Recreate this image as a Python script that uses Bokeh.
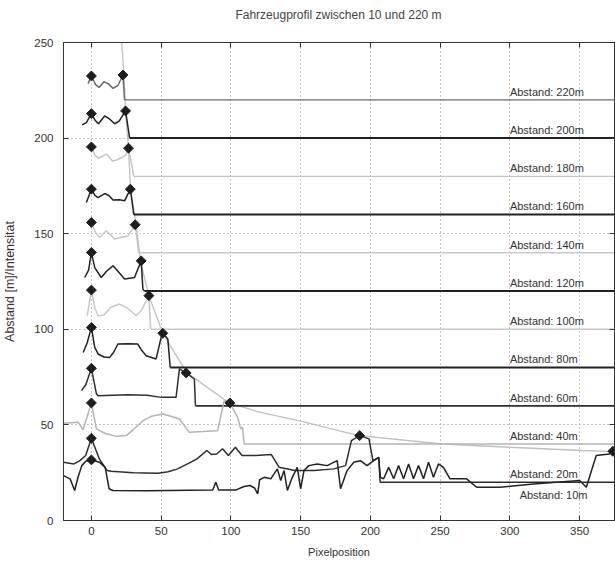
import numpy as np
from bokeh.plotting import figure
from bokeh.models import Range1d, LinearAxis, FixedTicker, Div
from bokeh.layouts import column
from bokeh.embed import file_html
from bokeh.resources import INLINE
from bokeh.core.properties import value

# ---------------- data ----------------
title_text = "Fahrzeugprofil zwischen 10 und 220 m"
distances = [220, 200, 180, 160, 140, 120, 100, 80, 60, 40, 20, 10]
labels = ["Abstand: 220m", "Abstand: 200m", "Abstand: 180m", "Abstand: 160m",
          "Abstand: 140m", "Abstand: 120m", "Abstand: 100m", "Abstand: 80m",
          "Abstand: 60m", "Abstand: 40m", "Abstand: 20m", "Abstand: 10m"]
# x where the flat distance line begins (None = no visible line)
line_start = [23.8, 27.4, 30.4, 30.4, 33.9, 38.0, 42.5, 56.5, 74.6, 109.5, 207.0, None]

x_ticks = [0, 50, 100, 150, 200, 250, 300, 350]
y_ticks = [0, 50, 100, 150, 200, 250]

prof_220_x = [-2.4, 0, 3, 5.5, 9, 12, 15.5, 19, 22.6, 23.8]
prof_220_y = [228.5, 232.5, 228, 226.5, 229.5, 228.5, 226, 227.5, 233, 220]

prof_200_x = [-6.6, -3.6, 0, 2.5, 5, 9.5, 13, 16.7, 20, 24.5, 27.4]
prof_200_y = [206.9, 208.1, 212.8, 209.5, 207.5, 211.6, 210, 207.5, 209, 214.2, 200]

prof_180_x = [0, 2.5, 5, 8, 10.7, 13, 15, 18, 22, 24.5, 26.6, 30.4]
prof_180_y = [195.4, 191, 189.5, 190.5, 191.8, 190, 188, 188.5, 190, 191, 194.7, 180]

prof_160_x = [-3.6, 0, 2.5, 4.8, 9.5, 12.5, 15.5, 20, 23.8, 27.9, 30.4]
prof_160_y = [166.3, 173.3, 170, 168.9, 171, 170, 167.6, 167.8, 167.2, 173.3, 160]

prof_140_x = [0, 3, 5.9, 10.7, 13.5, 16.7, 21, 26.2, 31.4, 33.9]
prof_140_y = [155.9, 150.5, 148, 151.5, 149.5, 147.2, 148, 148.9, 154.7, 140]

prof_120_x = [-4.8, -2, 0, 2.4, 7.1, 11, 15.5, 19.5, 23.8, 30.9, 35.7, 36.9, 38.0]
prof_120_y = [127.1, 131, 140.2, 132.3, 127.1, 130.5, 133.2, 130, 126.3, 127.1, 135.8, 121, 120]

prof_100_x = [-3, 0, 2.5, 4.8, 9, 14, 20.2, 26, 32.1, 36, 41.2, 42.5]
prof_100_y = [107, 120.5, 111, 107.1, 107.5, 111.5, 113.2, 111, 107.1, 110, 117.6, 100]

prof_80_x = [-5.9, -3, 0, 2.4, 4.8, 9, 13.1, 16, 19, 26, 33.3, 36, 39.3, 46.4, 50, 51.2, 54.8, 56.5]
prof_80_y = [87.9, 93, 101, 90.5, 87.1, 85.5, 85.3, 88, 92.3, 92.5, 92.3, 89, 86.2, 84.5, 95.8, 97.9, 94.9, 80]

prof_60_x = [-7.1, -4, 0, 3.6, 4.8, 26.2, 40, 50, 60.7, 63.1, 67.9, 73.8, 74.6]
prof_60_y = [67.9, 71, 79.6, 66.2, 65.3, 65.8, 65.5, 64.4, 64.4, 79.3, 77.2, 74, 60]

prof_40_x = [-20, -9.5, -6, 0, 3.6, 10, 18, 25, 30, 36.9, 43, 51.2, 57, 63.1, 70.2, 80,
             90.5, 95.2, 99.3, 104.8, 107, 108.3, 109.5]
prof_40_y = [50.8, 51.4, 47.5, 61.5, 47.9, 45.5, 44, 44.4, 47.5, 52.2, 54.5, 55.7, 54.5, 53.1, 46.1, 46.5,
             47, 62.7, 61.5, 54, 47.9, 48.8, 40]

prof_20_x = [-20, -12.5, -8.3, -4.1, 0, 5.7, 11.3, 14.2, 30, 47.8, 55, 61.8, 70, 75.7, 82.8, 86,
             89.8, 94, 98.2, 103.2, 108, 117.8, 129, 134.6, 145.8, 159.8, 173.8, 182.2, 186.4,
             192.3, 199, 201.8, 206, 207]
prof_20_y = [30.5, 29.6, 31.3, 34, 43, 32.2, 26.1, 25.8, 25, 24.7, 25.5, 27, 30, 32.2, 36.6, 34.5,
             34.8, 37.5, 34, 38.3, 34, 34, 34.5, 27.8, 26.1, 26.1, 27, 28.7, 41.8,
             44.4, 42.7, 31.3, 33, 20]

prof_10_x = [-20, -15.3, -12, -9.6, -6.9, -4, 0, 5.7, 9.9, 12.7, 15.5, 40, 70, 87, 89.2, 91.2,
             103.8, 109.4, 113.6, 117, 119.2, 120.6, 123.8, 128.6, 133.3, 135.7, 138.1, 140.5,
             144, 147.6, 150, 152.4, 155.9, 161.9, 169, 176.2, 178.6, 183.3, 188.1, 192.9,
             197.6, 202.4, 206, 207.1, 209.5, 213.1, 216.7, 220.2, 223.8, 227.4, 230.9,
             234.5, 238.1, 241.7, 245.2, 248.8, 252.4, 257.1, 269, 276.2, 292.9, 316.7,
             350, 354.8, 361.9, 371.4, 373.8]
prof_10_y = [23.5, 21.8, 15.7, 22.6, 28.7, 31, 31.7, 30.5, 27.8, 16.6, 15.7, 15.5, 15.8, 16, 20, 16,
             16, 17.8, 18.3, 17, 13.9, 21.3, 22.6, 21.8, 27, 20.9, 26.1, 15.7,
             22.6, 27.8, 16.6, 26.1, 28.7, 29.6, 28.7, 31.3, 16.6, 26.1, 30.5, 31.3,
             28.7, 31.3, 33, 22.6, 21.8, 27.8, 21.8, 28.7, 21.8, 29.6, 21.8,
             28.7, 21.8, 30.5, 22.6, 29.6, 27.8, 21.8, 21.8, 17.4, 17.4, 19.1,
             20.9, 17.4, 34, 34.8, 36.2]

# apparent vehicle edge vs. distance (grey decaying curve)
edge_x = [21.5, 23.3, 24.5, 26.6, 28.1, 32.1, 35.2, 41.2, 51.2, 68.5, 98.8, 119, 150, 183, 192.3,
          251, 300, 352, 375]
edge_y = [252, 233.4, 214.2, 194.7, 172.9, 154.5, 135.5, 117.6, 97.9, 77.2, 61.5, 57, 52, 46, 44.4,
          40, 38.3, 36.6, 36]

# diamond markers (left and right edge of each profile)
mark_x = [0, 0, 0, 0, 0, 0, 0, 0, 0, 0, 0, 0,
          22.6, 24.5, 26.6, 27.9, 31.4, 35.7, 41.2, 51.2, 67.9, 99.3, 192.3, 373.8]
mark_y = [232.5, 212.8, 195.4, 173.3, 155.9, 140.2, 120.5, 101, 79.6, 61.5, 43, 31.7,
          233, 214.2, 194.7, 173.3, 154.7, 135.8, 117.6, 97.9, 77.2, 61.5, 44.4, 36.2]

profiles_x = [prof_220_x, prof_200_x, prof_180_x, prof_160_x, prof_140_x, prof_120_x,
              prof_100_x, prof_80_x, prof_60_x, prof_40_x, prof_20_x, prof_10_x]
profiles_y = [prof_220_y, prof_200_y, prof_180_y, prof_160_y, prof_140_y, prof_120_y,
              prof_100_y, prof_80_y, prof_60_y, prof_40_y, prof_20_y, prof_10_y]

# ---------------- styling ----------------
colors = ["#6a6a6a", "#222222", "#c4c4c4", "#222222", "#c8c8c8", "#222222",
          "#c8c8c8", "#222222", "#2e2e2e", "#b4b4b4", "#2e2e2e", "#222222"]
widths = [1.4, 2.0, 1.4, 2.0, 1.4, 2.0, 1.4, 2.0, 1.8, 1.5, 1.5, 1.5]
FONT = "Liberation Sans"
X0, X1 = -20, 375
Y0, Y1 = 0, 250

TITLE_H = 26
title_div = Div(text=title_text, width=615, height=TITLE_H, margin=0,
                styles={"font-family": FONT, "font-size": "12px", "color": "#444444",
                        "text-align": "center", "line-height": "%dpx" % (TITLE_H + 4),
                        "padding-left": "62px", "box-sizing": "border-box",
                        "white-space": "nowrap"})

p = figure(width=615, height=563 - TITLE_H, x_range=Range1d(X0, X1), y_range=Range1d(Y0, Y1),
           output_backend="svg", toolbar_location=None, margin=0,
           min_border_left=63, min_border_right=1, min_border_top=42 - TITLE_H,
           min_border_bottom=43)
p.background_fill_color = "white"
p.border_fill_color = "white"
p.outline_line_color = "#333333"

for ax in (p.xaxis[0], p.yaxis[0]):
    ax.major_tick_in = 5
    ax.major_tick_out = 0
    ax.minor_tick_in = 0
    ax.minor_tick_out = 0
    ax.axis_line_color = "#333333"
    ax.major_tick_line_color = "#333333"
    ax.major_label_text_font = FONT
    ax.major_label_text_font_size = "11.5px"
    ax.major_label_text_color = "#333333"
    ax.axis_label_text_font = FONT
    ax.axis_label_text_font_style = "normal"
    ax.axis_label_text_color = "#333333"

p.xaxis.ticker = FixedTicker(ticks=x_ticks)
p.yaxis.ticker = FixedTicker(ticks=y_ticks)
p.xaxis.axis_label = "Pixelposition"
p.xaxis.axis_label_text_font_size = "11px"
p.xaxis.major_label_standoff = 6
p.xaxis.axis_label_standoff = 8
p.yaxis.axis_label = "Abstand [m]/Intensitat"
p.yaxis.axis_label_text_font_size = "12.5px"
p.yaxis.major_label_standoff = 10
p.yaxis.axis_label_standoff = 14

for loc, ticks in (("above", x_ticks), ("right", y_ticks)):
    ax = LinearAxis(ticker=FixedTicker(ticks=ticks),
                    major_label_overrides={t: "" for t in ticks},
                    major_label_standoff=0, major_tick_in=5, major_tick_out=0,
                    minor_tick_in=0, minor_tick_out=0, axis_line_color="#333333",
                    major_tick_line_color="#333333")
    p.add_layout(ax, loc)

for g, ticks in ((p.xgrid[0], x_ticks), (p.ygrid[0], y_ticks)):
    g.ticker = FixedTicker(ticks=ticks)
    g.grid_line_color = "#8a8a8a"
    g.grid_line_dash = "1 3"
    g.grid_line_width = 1

# grey decaying edge curve
p.line(edge_x, edge_y, line_color="#c0c0c0", line_width=1.3)

# profiles with their flat distance lines
for d, xs, ys, start, col, w in zip(distances, profiles_x, profiles_y, line_start, colors, widths):
    p.line(xs, ys, line_color=col, line_width=1.5)
    if start is not None:
        p.line([start, X1], [d, d], line_color=col, line_width=w)

p.scatter(mark_x, mark_y, marker="square", angle=np.pi / 4, size=7,
          fill_color="#1e1e1e", line_color="#1e1e1e")

lab_x = [300 if d != 10 else 307 for d in distances]
lab_y = [d + 4.3 if d != 10 else d + 3.2 for d in distances]
p.text(x=lab_x, y=lab_y, text=labels, text_font=value(FONT), text_font_size="11px",
       text_baseline="middle", text_align="left", text_color="#333333")

layout = column(title_div, p, spacing=0, margin=0)
open("out.html", "w").write(file_html(layout, INLINE))
